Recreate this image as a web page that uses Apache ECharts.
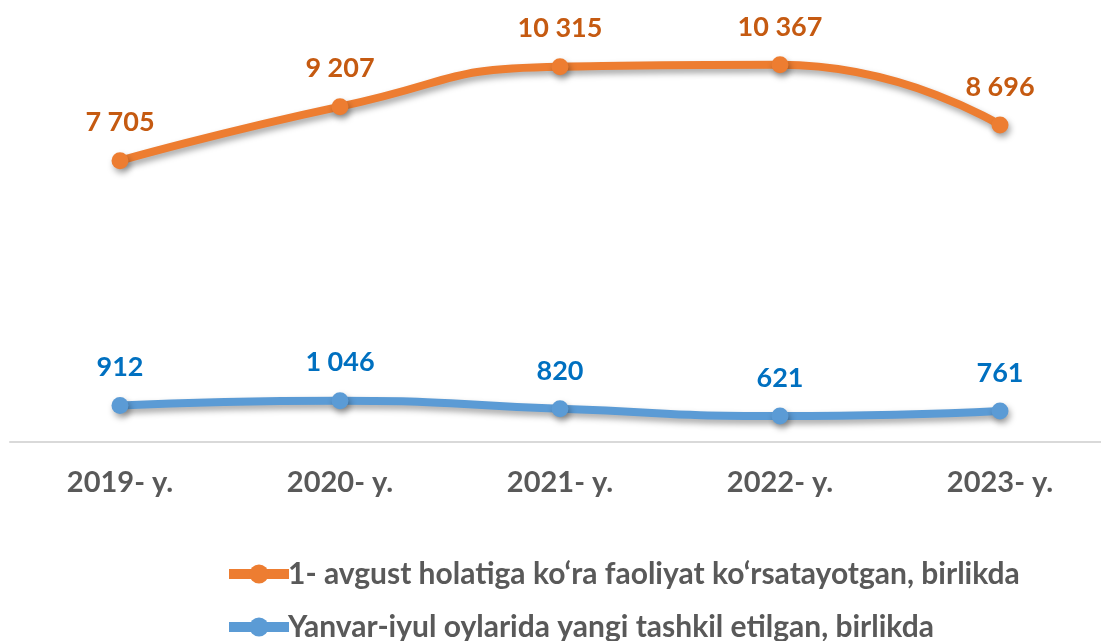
<!DOCTYPE html>
<html>
<head>
<meta charset="utf-8">
<style>
  html, body { margin: 0; padding: 0; background: #fff; }
  #chart { width: 1101px; height: 641px; }
</style>
<script src="https://cdn.jsdelivr.net/npm/echarts@6/dist/echarts.min.js"></script>
</head>
<body>
<div id="chart"></div>
<script>
// ===== Data =====
const years = ['2019- y.', '2020- y.', '2021- y.', '2022- y.', '2023- y.'];
const activeCount = [7705, 9207, 10315, 10367, 8696];
const newCount = [912, 1046, 820, 621, 761];
const seriesNames = [
  '1- avgust holatiga ko‘ra faoliyat ko‘rsatayotgan, birlikda',
  'Yanvar-iyul oylarida yangi tashkil etilgan, birlikda'
];

const fmt = v => String(v).replace(/\B(?=(\d{3})+(?!\d))/g, ' ');
const FONT = 'Lato';
const shadow = { shadowColor: 'rgba(0,0,0,0.35)', shadowBlur: 6, shadowOffsetY: 4, shadowOffsetX: 2 };

// one legend per row, so the box layout never wraps
const legendRow = (name, top) => ({
  orient: 'horizontal',
  left: 224,
  top: top,
  padding: 0,
  itemWidth: 60,
  itemHeight: 24,
  lineStyle: { width: 10 },
  textStyle: { fontFamily: FONT, fontWeight: 'bold', fontSize: 30, color: '#595959', padding: [0, 0, 0, -6] },
  data: [name]
});

const lineSeries = (name, data, color, labelColor) => ({
  name: name,
  type: 'line',
  data: data,
  smooth: 0.55,
  symbol: 'circle',
  symbolSize: 17,
  color: color,
  lineStyle: Object.assign({ width: 8, color: color }, shadow),
  itemStyle: Object.assign({ color: color }, shadow),
  label: {
    show: true, position: 'top', distance: 16,
    formatter: p => fmt(p.value),
    fontFamily: FONT, fontWeight: 'bold', fontSize: 27, color: labelColor
  }
});

// ===== Chart =====
const chart = echarts.init(document.getElementById('chart'));
chart.setOption({
  animation: false,
  textStyle: { fontFamily: FONT },
  grid: { left: 10, right: -9, top: 6, bottom: 199, outerBoundsMode: 'none' },
  legend: [legendRow(seriesNames[0], 559), legendRow(seriesNames[1], 612)],
  xAxis: {
    type: 'category',
    data: years,
    boundaryGap: true,
    axisLine: { onZero: false, lineStyle: { color: '#d9d9d9', width: 2 } },
    axisTick: { show: false },
    axisLabel: { margin: 26, fontFamily: FONT, fontWeight: 'bold', fontSize: 29, color: '#595959' }
  },
  yAxis: {
    type: 'value',
    min: -100,
    max: 12000,
    show: false,
    splitLine: { show: false }
  },
  series: [
    lineSeries(seriesNames[0], activeCount, '#ED7D31', '#C55A11'),
    lineSeries(seriesNames[1], newCount, '#5B9BD5', '#0070C0')
  ]
});
</script>
</body>
</html>
